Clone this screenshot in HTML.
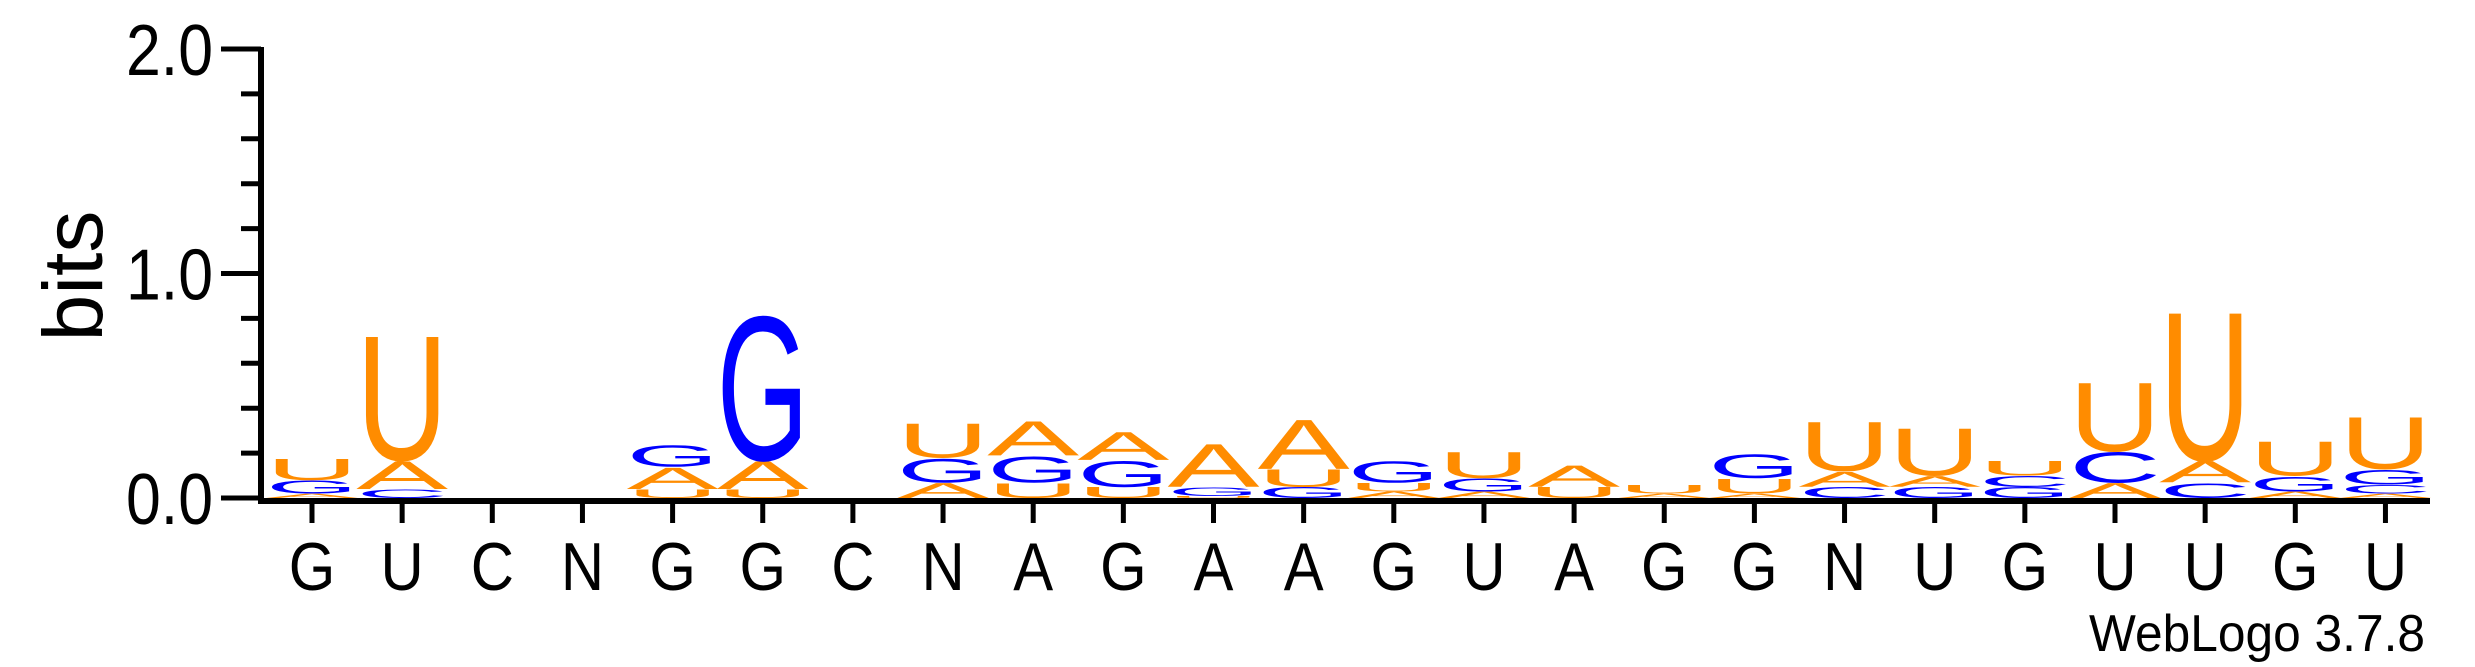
<!DOCTYPE html>
<html><head><meta charset="utf-8"><style>
html,body{margin:0;padding:0;background:#fff;}
svg{display:block;}
text{font-family:"Liberation Sans",Arial,sans-serif;}
</style></head><body>
<svg id="chart" width="2475" height="667" viewBox="0 0 2475 667" xmlns="http://www.w3.org/2000/svg">
<g id="axes"></g>
<g id="stacks"></g>
<text x="0" y="0" font-size="84" text-anchor="middle" transform="translate(102,276) rotate(-90)">bits</text>
<text x="2425" y="651" font-size="52" text-anchor="end" textLength="336" lengthAdjust="spacingAndGlyphs">WebLogo 3.7.8</text>
</svg>
<script>
const positions = ["G","U","C","N","G","G","C","N","A","G","A","A","G","U","A","G","G","N","U","G","U","U","G","U"];
// stacks bottom->top
const stackLetters = [
 ["A","G","U"],["C","A","U"],[],[],["U","A","G"],["U","A","G"],[],["A","G","U"],
 ["U","G","A"],["U","G","A"],["U","G","A"],["G","U","A"],["A","U","G"],["A","G","U"],
 ["U","A"],["A","U"],["A","U","G"],["C","A","U"],["G","A","U"],["G","C","U"],
 ["A","C","U"],["C","A","U"],["A","G","U"],["A","C","G","U"]
];
const stackBits = [
 [0.02,0.06,0.10],[0.04,0.13,0.58],[],[],[0.04,0.10,0.10],[0.04,0.13,0.67],[],[0.07,0.11,0.16],
 [0.07,0.12,0.16],[0.05,0.12,0.13],[0.01,0.04,0.20],[0.05,0.08,0.23],[0.03,0.04,0.10],[0.03,0.06,0.12],
 [0.05,0.10],[0.02,0.04],[0.02,0.07,0.11],[0.05,0.07,0.23],[0.05,0.05,0.22],[0.05,0.05,0.07],
 [0.07,0.14,0.32],[0.07,0.10,0.69],[0.03,0.07,0.16],[0.02,0.04,0.07,0.24]
];
const yTicks = [0,0.2,0.4,0.6,0.8,1.0,1.2,1.4,1.6,1.8,2.0];
const yTickLabels = ["0.0","1.0","2.0"];
const yLabelValues = [0,1,2];

const NS="http://www.w3.org/2000/svg";
const x0=312, dx=90.15, yZero=498, pxPerBit=224.5, letterW=92;
const xScale=i=>x0+i*dx;
const yScale=v=>yZero-v*pxPerBit;
const colors={A:"#FF8C00",U:"#FF8C00",G:"#0000FF",C:"#0000FF"};
function mk(tag,attrs,parent){const e=document.createElementNS(NS,tag);for(const k in attrs)e.setAttribute(k,attrs[k]);parent.appendChild(e);return e;}
const axes=document.getElementById('axes'), stacks=document.getElementById('stacks');

let a=mk('line',{x1:261,y1:yScale(2)-2,x2:261,y2:yZero+6,stroke:"#000","stroke-width":6},axes);


a=mk('line',{x1:258,y1:yZero+3,x2:2430,y2:yZero+3,stroke:"#000","stroke-width":6},axes);


yTicks.forEach(v=>{
  const major=Math.abs(v-Math.round(v))<1e-6;
  const t=mk('line',{x1:major?221:241,x2:261,y1:yScale(v),y2:yScale(v),stroke:"#000","stroke-width":5},axes);
  
  
});
yLabelValues.forEach((v,i)=>{
  const t=mk('text',{x:213,y:yScale(v)+26,"font-size":72,"text-anchor":"end",textLength:87,lengthAdjust:"spacingAndGlyphs"},axes);
  t.textContent=yTickLabels[i];
  
  
});
positions.forEach((p,i)=>{
  const cx=xScale(i);
  const t=mk('line',{x1:cx,x2:cx,y1:yZero+4,y2:yZero+25,stroke:"#000","stroke-width":5},axes);
  
  
  const l=mk('text',{x:0,y:0,"font-size":68,"text-anchor":"middle",transform:`translate(${cx},590) scale(0.88,1)`},axes);
  l.textContent=p;
  
  
  let cum=0;
  const g=mk('g',{},stacks);
  
  
  stackLetters[i].forEach((L,j)=>{
    const b=stackBits[i][j];
    const yb=yScale(cum), h=b*pxPerBit;
    cum+=b;
    const sy=h/72.9;
    const e=mk('text',{x:0,y:0,"font-size":100,fill:colors[L],textLength:letterW,lengthAdjust:"spacingAndGlyphs",
      transform:`translate(${cx-letterW/2},${yb}) scale(1,${sy})`},g);
    e.textContent=L;
    
    
  });
});
</script>
</body></html>
